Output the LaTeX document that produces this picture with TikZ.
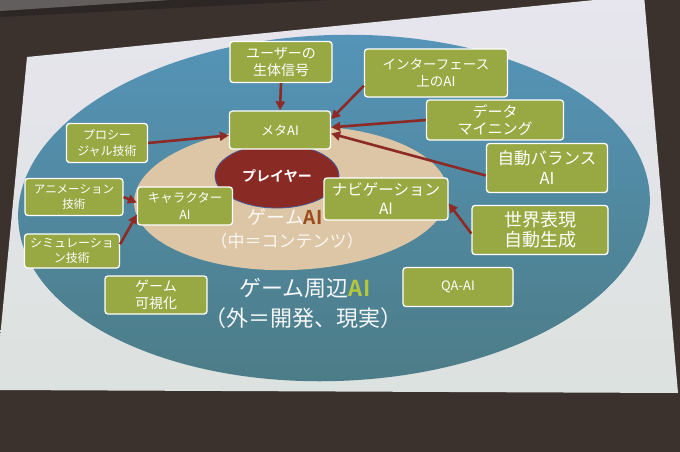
\documentclass[tikz,border=0pt]{standalone}
\usepackage{fontspec}
\setmainfont{Noto Sans CJK JP}[BoldFont={Noto Sans CJK JP Bold}]
\usepackage{tikz}
\usetikzlibrary{arrows.meta,shapes.geometric}
\definecolor{wall}{HTML}{3B312D}
\definecolor{ceiling}{HTML}{615E5D}
\definecolor{ceilingedge}{HTML}{2C2624}
\definecolor{slidetop}{HTML}{E7E5EE}
\definecolor{slidebot}{HTML}{DCE2DF}
\definecolor{outertop}{HTML}{5594B8}
\definecolor{outerbot}{HTML}{4C7C86}
\definecolor{innerbeige}{HTML}{DCC6A6}
\definecolor{boxgreen}{HTML}{98A944}
\definecolor{arrowred}{HTML}{8E2A25}
\definecolor{playerred}{HTML}{8A2A24}
\definecolor{playerrim}{HTML}{4A5A9A}
\definecolor{aibrown}{HTML}{9B4B1C}
\definecolor{aiyellow}{HTML}{B5C83A}

\begin{document}
\begin{tikzpicture}[x=1pt,y=-1pt,
    aibox/.style={draw=white, line width=1.3pt, fill=boxgreen, rounded corners=3pt, text=white, align=center, inner sep=1pt},
    feed/.style={draw=arrowred, line width=2.6pt, -{Triangle[length=9pt,width=9pt]}}
]
\useasboundingbox (0,0) rectangle (680,452);
% ---- room and screen ----
\fill[wall] (0,0) rectangle (680,452);
\fill[ceilingedge] (0,11) -- (170,0) -- (330,0) -- (0,17) -- cycle;
\fill[ceiling] (0,0) -- (170,0) -- (0,11) -- cycle;
\shade[top color=slidetop, bottom color=slidebot] (27,57) -- (644,-5) -- (678,393) -- (-5,390) -- cycle;

% ---- rings ----
\shade[top color=outertop, bottom color=outerbot, rotate around={2:(334,208)}] (334,208) ellipse [x radius=316, y radius=173];
\fill[innerbeige, rotate around={2:(291,198)}] (291,198) ellipse [x radius=157, y radius=72];
\node[ellipse, fill=playerred, draw=playerrim, line width=0.8pt, minimum width=124pt, minimum height=64pt, text=white, font=\fontsize{14}{16}\selectfont\bfseries] (player) at (277,176) {プレイヤー};

% ---- ring labels ----
\node[text=white!88!innerbeige, font=\fontsize{19}{22}\selectfont] (gameai) at (285,217) {ゲーム{\color{aibrown}\bfseries AI}};
\node[text=white!88!innerbeige, font=\fontsize{17}{20}\selectfont] (inner) at (287,241) {（中＝コンテンツ）};
\node[text=white!95!outerbot, font=\fontsize{22}{26}\selectfont] (outerai) at (305,288) {ゲーム周辺{\color{aiyellow}\bfseries AI}};
\node[text=white!95!outerbot, font=\fontsize{22}{26}\selectfont] (outer) at (303,318) {（外＝開発、現実）};

% ---- boxes ----
\node[aibox, minimum width=102pt, minimum height=41pt, font=\fontsize{14}{17}\selectfont] (bio) at (281,62) {ユーザーの\\生体信号};
\node[aibox, minimum width=143pt, minimum height=48pt, font=\fontsize{13.5}{17}\selectfont] (iface) at (436,73) {インターフェース\\上のAI};
\node[aibox, minimum width=137pt, minimum height=40pt, font=\fontsize{15}{17}\selectfont] (mining) at (495,120) {データ\\マイニング};
\node[aibox, minimum width=101pt, minimum height=38pt, font=\fontsize{13}{16}\selectfont] (meta) at (280,130) {メタAI};
\node[aibox, minimum width=81pt, minimum height=39pt, font=\fontsize{12}{16}\selectfont] (proc) at (107,143) {プロシー\\ジャル技術};
\node[aibox, minimum width=98pt, minimum height=37pt, font=\fontsize{11.5}{15}\selectfont] (anim) at (74,197) {アニメーション\\技術};
\node[aibox, minimum width=95pt, minimum height=34pt, font=\fontsize{12}{15}\selectfont] (sim) at (72,251) {シミュレーショ\\ン技術};
\node[aibox, minimum width=95pt, minimum height=38pt, font=\fontsize{12.5}{17}\selectfont] (chara) at (185,206) {キャラクター\\AI};
\node[aibox, minimum width=124pt, minimum height=42pt, font=\fontsize{15.5}{19}\selectfont] (navi) at (386,199) {ナビゲーション\\AI};
\node[aibox, minimum width=121pt, minimum height=49pt, font=\fontsize{16.5}{20}\selectfont] (balance) at (547,168) {自動バランス\\AI};
\node[aibox, minimum width=136pt, minimum height=49pt, font=\fontsize{18}{20}\selectfont] (world) at (540,230) {世界表現\\自動生成};
\node[aibox, minimum width=102pt, minimum height=38pt, font=\fontsize{14}{17}\selectfont] (visual) at (156,295) {ゲーム\\可視化};
\node[aibox, minimum width=110pt, minimum height=39pt, font=\fontsize{13}{16}\selectfont] (qa) at (458,287) {QA-AI};

% ---- arrows ----
\draw[feed] (bio.south) -- (meta.north);
\draw[feed] (iface.190) -- (meta.12);
\draw[feed] (mining.west) -- (meta.3);
\draw[feed] (balance.187) -- (meta.-4);
\draw[feed] (proc.east) -- (meta.186);
\draw[feed] (anim.east) -- (chara.176);
\draw[feed] (sim.8) -- (chara.190);
\draw[feed] (world.183) -- (navi.-4);
\end{tikzpicture}
\end{document}
